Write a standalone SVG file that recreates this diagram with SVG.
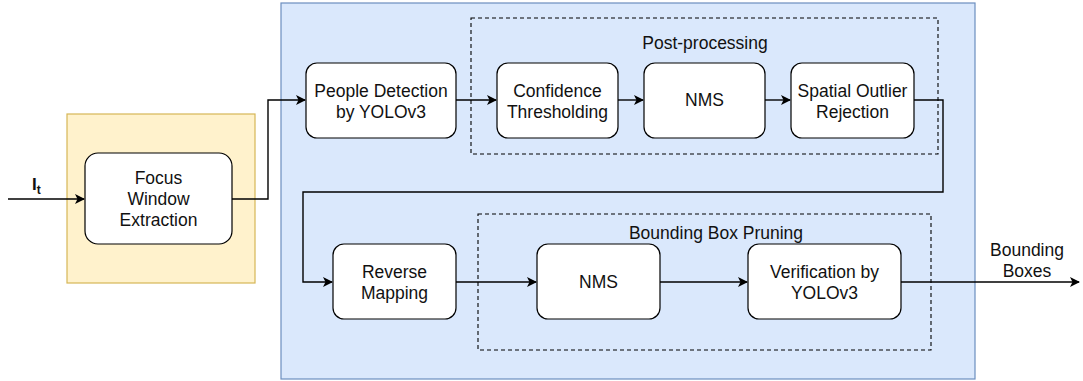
<svg xmlns="http://www.w3.org/2000/svg" width="1083" height="381" viewBox="0 0 1083 381">
<style>
.node{fill:#fff;stroke:#000;stroke-width:1.2}
.t{font-family:"Liberation Sans",Arial,sans-serif;font-size:17.5px;fill:#111;text-anchor:middle}
.dash{fill:none;stroke:#000;stroke-width:1.1;stroke-dasharray:4 3}
.c{fill:none;stroke:#000;stroke-width:1.4}
</style>
<defs>
<marker id="a" viewBox="0 0 10 10" refX="9" refY="5" markerWidth="10" markerHeight="10" markerUnits="userSpaceOnUse" orient="auto">
<path d="M0,0 L10,5 L0,10 L2.5,5 Z" fill="#000"/>
</marker>
</defs>
<rect x="0" y="0" width="1083" height="381" fill="#fff"/>
<g id="stage1">
<rect x="67" y="114" width="188" height="169" fill="#fff2cc" stroke="#d6b656" stroke-width="1.2"/>
</g>
<g id="stage2">
<rect x="281" y="3" width="694" height="376" fill="#dae8fc" stroke="#6c8ebf" stroke-width="1.2"/>
</g>
<g id="postprocessing">
<rect class="dash" x="471" y="18" width="467" height="136"/>
<text class="t" x="705" y="49">Post-processing</text>
</g>
<g id="pruning">
<rect class="dash" x="478" y="214" width="453" height="136"/>
<text class="t" x="716" y="239">Bounding Box Pruning</text>
</g>
<g id="connectors">
<path class="c" d="M8,199 H84" marker-end="url(#a)"/>
<path class="c" d="M232,199 H268 V100 H305" marker-end="url(#a)"/>
<path class="c" d="M456,100 H496" marker-end="url(#a)"/>
<path class="c" d="M618,100 H643" marker-end="url(#a)"/>
<path class="c" d="M765,100 H790" marker-end="url(#a)"/>
<path class="c" d="M914,100 H943 V192 H303 V282 H332" marker-end="url(#a)"/>
<path class="c" d="M456,282 H536" marker-end="url(#a)"/>
<path class="c" d="M660,282 H747" marker-end="url(#a)"/>
<path class="c" d="M901,282 H1079" marker-end="url(#a)"/>
</g>
<g id="input-label">
<text font-family="'Liberation Sans',Arial,sans-serif" font-weight="bold" font-size="17" fill="#111" x="32" y="190">I<tspan font-size="12" dy="4">t</tspan></text>
</g>
<g id="focus">
<rect class="node" x="85" y="153" width="147" height="91" rx="13"/>
<text class="t" x="158.5" y="184">Focus</text>
<text class="t" x="158.5" y="205">Window</text>
<text class="t" x="158.5" y="226">Extraction</text>
</g>
<g id="people">
<rect class="node" x="306" y="63" width="150" height="75" rx="11"/>
<text class="t" x="381" y="97">People Detection</text>
<text class="t" x="381" y="118">by YOLOv3</text>
</g>
<g id="confidence">
<rect class="node" x="497" y="63" width="121" height="75" rx="11"/>
<text class="t" x="557.5" y="97">Confidence</text>
<text class="t" x="557.5" y="118">Thresholding</text>
</g>
<g id="nms1">
<rect class="node" x="644" y="63" width="121" height="75" rx="11"/>
<text class="t" x="704.5" y="106">NMS</text>
</g>
<g id="spatial">
<rect class="node" x="791" y="63" width="123" height="75" rx="11"/>
<text class="t" x="852.5" y="97">Spatial Outlier</text>
<text class="t" x="852.5" y="118">Rejection</text>
</g>
<g id="reverse">
<rect class="node" x="333" y="244" width="123" height="75" rx="11"/>
<text class="t" x="394.5" y="278">Reverse</text>
<text class="t" x="394.5" y="299">Mapping</text>
</g>
<g id="nms2">
<rect class="node" x="537" y="244" width="123" height="75" rx="11"/>
<text class="t" x="598.5" y="288">NMS</text>
</g>
<g id="verification">
<rect class="node" x="748" y="244" width="153" height="75" rx="11"/>
<text class="t" x="824.5" y="278">Verification by</text>
<text class="t" x="824.5" y="299">YOLOv3</text>
</g>
<g id="output-label">
<text class="t" x="1027" y="256">Bounding</text>
<text class="t" x="1027" y="277">Boxes</text>
</g>
</svg>
